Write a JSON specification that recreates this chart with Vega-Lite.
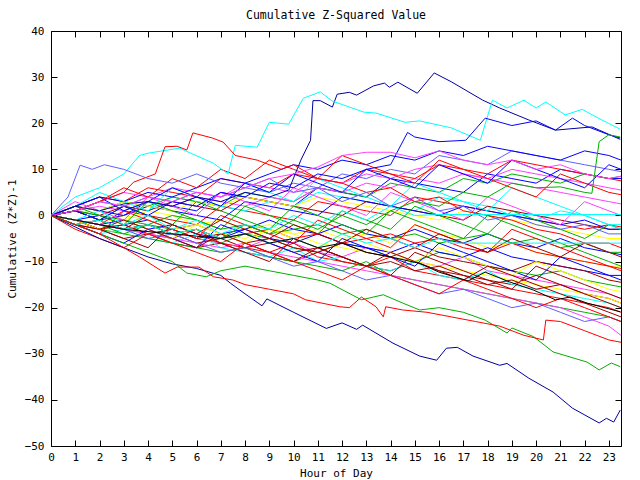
{
"$schema":"https://vega.github.io/schema/vega-lite/v6.json",
"width":570,"height":415,
"autosize":{"type":"none"},
"padding":{"left":51,"top":31,"right":19,"bottom":34},
"background":"white",
"config":{"view":{"stroke":"black","strokeWidth":1},"font":"DejaVu Sans Mono",
"axis":{"labelFont":"DejaVu Sans Mono","labelFontSize":11,"labelColor":"black","titleFont":"DejaVu Sans Mono","titleFontSize":11,"titleFontWeight":"normal","titleColor":"black","grid":false,"domain":false,"tickColor":"black","tickSize":-6,"tickWidth":1}},
"title":{"text":"Cumulative Z-Squared Value","fontSize":11.5,"fontWeight":"normal","font":"DejaVu Sans Mono","color":"black","offset":4},
"data":{"values":[
{"s":14,"h":0,"v":0},{"s":14,"h":1,"v":-1},{"s":14,"h":2,"v":-2},{"s":14,"h":3,"v":1},{"s":14,"h":4,"v":0},{"s":14,"h":5,"v":-1},{"s":14,"h":6,"v":-2},{"s":14,"h":7,"v":2},{"s":14,"h":8,"v":1},{"s":14,"h":9,"v":0},{"s":14,"h":10,"v":-1},{"s":14,"h":11,"v":3},{"s":14,"h":12,"v":2},{"s":14,"h":13,"v":1},{"s":14,"h":14,"v":0},{"s":14,"h":15,"v":4},{"s":14,"h":16,"v":3},{"s":14,"h":17,"v":2},{"s":14,"h":18,"v":1},{"s":14,"h":19,"v":0},{"s":14,"h":20,"v":-1},{"s":14,"h":21,"v":-2},{"s":14,"h":22,"v":-3},{"s":14,"h":23,"v":-2},{"s":14,"h":23.5,"v":-2.5},
{"s":15,"h":0,"v":0},{"s":15,"h":1,"v":-1},{"s":15,"h":2,"v":-3},{"s":15,"h":3,"v":-4},{"s":15,"h":4,"v":-2},{"s":15,"h":5,"v":-3},{"s":15,"h":6,"v":-5},{"s":15,"h":7,"v":-6},{"s":15,"h":8,"v":-4},{"s":15,"h":9,"v":-5},{"s":15,"h":10,"v":-7},{"s":15,"h":11,"v":-8},{"s":15,"h":12,"v":-6},{"s":15,"h":13,"v":-7},{"s":15,"h":14,"v":-9},{"s":15,"h":15,"v":-10},{"s":15,"h":16,"v":-8},{"s":15,"h":17,"v":-9},{"s":15,"h":18,"v":-11},{"s":15,"h":19,"v":-12},{"s":15,"h":20,"v":-13},{"s":15,"h":21,"v":-12},{"s":15,"h":22,"v":-14},{"s":15,"h":23,"v":-15},{"s":15,"h":23.5,"v":-15.5},
{"s":16,"h":0,"v":0},{"s":16,"h":1,"v":2},{"s":16,"h":2,"v":1},{"s":16,"h":3,"v":0},{"s":16,"h":4,"v":3},{"s":16,"h":5,"v":2},{"s":16,"h":6,"v":1},{"s":16,"h":7,"v":5},{"s":16,"h":8,"v":4},{"s":16,"h":9,"v":3},{"s":16,"h":10,"v":2},{"s":16,"h":11,"v":6},{"s":16,"h":12,"v":5},{"s":16,"h":13,"v":4},{"s":16,"h":14,"v":8},{"s":16,"h":15,"v":7},{"s":16,"h":16,"v":6},{"s":16,"h":17,"v":5},{"s":16,"h":18,"v":9},{"s":16,"h":19,"v":8},{"s":16,"h":20,"v":7},{"s":16,"h":21,"v":10},{"s":16,"h":22,"v":9},{"s":16,"h":23,"v":8},{"s":16,"h":23.5,"v":8},
{"s":17,"h":0,"v":0},{"s":17,"h":1,"v":-1},{"s":17,"h":2,"v":-2},{"s":17,"h":3,"v":-3},{"s":17,"h":4,"v":-4},{"s":17,"h":5,"v":-3},{"s":17,"h":6,"v":-5},{"s":17,"h":7,"v":-6},{"s":17,"h":8,"v":-7},{"s":17,"h":9,"v":-5},{"s":17,"h":10,"v":-6},{"s":17,"h":11,"v":-8},{"s":17,"h":12,"v":-9},{"s":17,"h":13,"v":-7},{"s":17,"h":14,"v":-8},{"s":17,"h":15,"v":-10},{"s":17,"h":16,"v":-11},{"s":17,"h":17,"v":-9},{"s":17,"h":18,"v":-12},{"s":17,"h":19,"v":-13},{"s":17,"h":20,"v":-14},{"s":17,"h":21,"v":-15},{"s":17,"h":22,"v":-16},{"s":17,"h":23,"v":-17},{"s":17,"h":23.5,"v":-18},
{"s":18,"h":0,"v":0},{"s":18,"h":1,"v":1},{"s":18,"h":2,"v":3},{"s":18,"h":3,"v":2},{"s":18,"h":4,"v":1},{"s":18,"h":5,"v":4},{"s":18,"h":6,"v":3},{"s":18,"h":7,"v":2},{"s":18,"h":8,"v":1},{"s":18,"h":9,"v":3},{"s":18,"h":10,"v":2},{"s":18,"h":11,"v":5},{"s":18,"h":12,"v":4},{"s":18,"h":13,"v":3},{"s":18,"h":14,"v":2},{"s":18,"h":15,"v":1},{"s":18,"h":16,"v":4},{"s":18,"h":17,"v":3},{"s":18,"h":18,"v":2},{"s":18,"h":19,"v":0},{"s":18,"h":20,"v":-1},{"s":18,"h":21,"v":1},{"s":18,"h":22,"v":0},{"s":18,"h":23,"v":-2},{"s":18,"h":23.5,"v":-2},
{"s":19,"h":0,"v":0},{"s":19,"h":1,"v":-2},{"s":19,"h":2,"v":-3},{"s":19,"h":3,"v":-5},{"s":19,"h":4,"v":-4},{"s":19,"h":5,"v":-6},{"s":19,"h":6,"v":-7},{"s":19,"h":7,"v":-6},{"s":19,"h":8,"v":-8},{"s":19,"h":9,"v":-9},{"s":19,"h":10,"v":-10},{"s":19,"h":11,"v":-8},{"s":19,"h":12,"v":-10},{"s":19,"h":13,"v":-11},{"s":19,"h":14,"v":-12},{"s":19,"h":15,"v":-10},{"s":19,"h":16,"v":-12},{"s":19,"h":17,"v":-13},{"s":19,"h":18,"v":-14},{"s":19,"h":19,"v":-15},{"s":19,"h":20,"v":-13},{"s":19,"h":21,"v":-15},{"s":19,"h":22,"v":-17},{"s":19,"h":23,"v":-18},{"s":19,"h":23.5,"v":-19},
{"s":20,"h":0,"v":0},{"s":20,"h":1,"v":1},{"s":20,"h":2,"v":0},{"s":20,"h":3,"v":-1},{"s":20,"h":4,"v":1},{"s":20,"h":5,"v":0},{"s":20,"h":6,"v":-2},{"s":20,"h":7,"v":-1},{"s":20,"h":8,"v":-3},{"s":20,"h":9,"v":-2},{"s":20,"h":10,"v":-4},{"s":20,"h":11,"v":-3},{"s":20,"h":12,"v":-5},{"s":20,"h":13,"v":-4},{"s":20,"h":14,"v":-6},{"s":20,"h":15,"v":-2},{"s":20,"h":16,"v":-4},{"s":20,"h":17,"v":-5},{"s":20,"h":18,"v":-7},{"s":20,"h":19,"v":-6},{"s":20,"h":20,"v":-8},{"s":20,"h":21,"v":-9},{"s":20,"h":22,"v":-10},{"s":20,"h":23,"v":-11},{"s":20,"h":23.5,"v":-11},
{"s":21,"h":0,"v":0},{"s":21,"h":1,"v":1},{"s":21,"h":2,"v":3},{"s":21,"h":3,"v":2},{"s":21,"h":4,"v":4},{"s":21,"h":5,"v":3},{"s":21,"h":6,"v":5},{"s":21,"h":7,"v":4},{"s":21,"h":8,"v":6},{"s":21,"h":9,"v":5},{"s":21,"h":10,"v":7},{"s":21,"h":11,"v":6},{"s":21,"h":12,"v":9},{"s":21,"h":13,"v":8},{"s":21,"h":14,"v":10},{"s":21,"h":15,"v":9},{"s":21,"h":16,"v":13},{"s":21,"h":17,"v":12},{"s":21,"h":18,"v":11},{"s":21,"h":19,"v":14},{"s":21,"h":20,"v":13},{"s":21,"h":21,"v":12},{"s":21,"h":22,"v":11},{"s":21,"h":23,"v":10},{"s":21,"h":23.5,"v":9.5},
{"s":22,"h":0,"v":0},{"s":22,"h":1,"v":-1},{"s":22,"h":2,"v":-3},{"s":22,"h":3,"v":-2},{"s":22,"h":4,"v":-4},{"s":22,"h":5,"v":-5},{"s":22,"h":6,"v":-3},{"s":22,"h":7,"v":-6},{"s":22,"h":8,"v":-7},{"s":22,"h":9,"v":-8},{"s":22,"h":10,"v":-6},{"s":22,"h":11,"v":-9},{"s":22,"h":12,"v":-10},{"s":22,"h":13,"v":-11},{"s":22,"h":14,"v":-9},{"s":22,"h":15,"v":-12},{"s":22,"h":16,"v":-13},{"s":22,"h":17,"v":-14},{"s":22,"h":18,"v":-15},{"s":22,"h":19,"v":-16},{"s":22,"h":20,"v":-17},{"s":22,"h":21,"v":-18},{"s":22,"h":22,"v":-19},{"s":22,"h":23,"v":-20},{"s":22,"h":23.5,"v":-21},
{"s":23,"h":0,"v":0},{"s":23,"h":1,"v":2},{"s":23,"h":2,"v":1},{"s":23,"h":3,"v":3},{"s":23,"h":4,"v":2},{"s":23,"h":5,"v":4},{"s":23,"h":6,"v":3},{"s":23,"h":7,"v":2},{"s":23,"h":8,"v":5},{"s":23,"h":9,"v":4},{"s":23,"h":10,"v":3},{"s":23,"h":11,"v":6},{"s":23,"h":12,"v":5},{"s":23,"h":13,"v":4},{"s":23,"h":14,"v":7},{"s":23,"h":15,"v":6},{"s":23,"h":16,"v":5},{"s":23,"h":17,"v":8},{"s":23,"h":18,"v":7},{"s":23,"h":19,"v":9},{"s":23,"h":20,"v":8},{"s":23,"h":21,"v":7},{"s":23,"h":22,"v":9},{"s":23,"h":23,"v":8},{"s":23,"h":23.5,"v":8.5},
{"s":24,"h":0,"v":0},{"s":24,"h":1,"v":-1},{"s":24,"h":2,"v":0},{"s":24,"h":3,"v":-2},{"s":24,"h":4,"v":-1},{"s":24,"h":5,"v":-3},{"s":24,"h":6,"v":-2},{"s":24,"h":7,"v":-4},{"s":24,"h":8,"v":-3},{"s":24,"h":9,"v":-1},{"s":24,"h":10,"v":-3},{"s":24,"h":11,"v":-4},{"s":24,"h":12,"v":-2},{"s":24,"h":13,"v":-4},{"s":24,"h":14,"v":-5},{"s":24,"h":15,"v":-3},{"s":24,"h":16,"v":-5},{"s":24,"h":17,"v":-6},{"s":24,"h":18,"v":-4},{"s":24,"h":19,"v":-6},{"s":24,"h":20,"v":-7},{"s":24,"h":21,"v":-5},{"s":24,"h":22,"v":-7},{"s":24,"h":23,"v":-8},{"s":24,"h":23.5,"v":-8.5},
{"s":25,"h":0,"v":0},{"s":25,"h":1,"v":1},{"s":25,"h":2,"v":2},{"s":25,"h":3,"v":1},{"s":25,"h":4,"v":3},{"s":25,"h":5,"v":2},{"s":25,"h":6,"v":4},{"s":25,"h":7,"v":3},{"s":25,"h":8,"v":2},{"s":25,"h":9,"v":4},{"s":25,"h":10,"v":3},{"s":25,"h":11,"v":6},{"s":25,"h":12,"v":5},{"s":25,"h":13,"v":7},{"s":25,"h":14,"v":6},{"s":25,"h":15,"v":8},{"s":25,"h":16,"v":7},{"s":25,"h":17,"v":9},{"s":25,"h":18,"v":8},{"s":25,"h":19,"v":7},{"s":25,"h":20,"v":6},{"s":25,"h":21,"v":5},{"s":25,"h":22,"v":4},{"s":25,"h":23,"v":3},{"s":25,"h":23.5,"v":2.5},
{"s":26,"h":0,"v":0},{"s":26,"h":1,"v":-2},{"s":26,"h":2,"v":-4},{"s":26,"h":3,"v":-3},{"s":26,"h":4,"v":-5},{"s":26,"h":5,"v":-6},{"s":26,"h":6,"v":-4},{"s":26,"h":7,"v":-7},{"s":26,"h":8,"v":-8},{"s":26,"h":9,"v":-9},{"s":26,"h":10,"v":-7},{"s":26,"h":11,"v":-10},{"s":26,"h":12,"v":-9},{"s":26,"h":13,"v":-11},{"s":26,"h":14,"v":-12},{"s":26,"h":15,"v":-10},{"s":26,"h":16,"v":-13},{"s":26,"h":17,"v":-14},{"s":26,"h":18,"v":-12},{"s":26,"h":19,"v":-15},{"s":26,"h":20,"v":-16},{"s":26,"h":21,"v":-17},{"s":26,"h":22,"v":-18},{"s":26,"h":23,"v":-19},{"s":26,"h":23.5,"v":-20},
{"s":27,"h":0,"v":0},{"s":27,"h":1,"v":1},{"s":27,"h":2,"v":0},{"s":27,"h":3,"v":2},{"s":27,"h":4,"v":1},{"s":27,"h":5,"v":3},{"s":27,"h":6,"v":2},{"s":27,"h":7,"v":1},{"s":27,"h":8,"v":4},{"s":27,"h":9,"v":3},{"s":27,"h":10,"v":2},{"s":27,"h":11,"v":1},{"s":27,"h":12,"v":0},{"s":27,"h":13,"v":3},{"s":27,"h":14,"v":2},{"s":27,"h":15,"v":1},{"s":27,"h":16,"v":0},{"s":27,"h":17,"v":-1},{"s":27,"h":18,"v":2},{"s":27,"h":19,"v":1},{"s":27,"h":20,"v":0},{"s":27,"h":21,"v":-1},{"s":27,"h":22,"v":-2},{"s":27,"h":23,"v":-3},{"s":27,"h":23.5,"v":-3},
{"s":28,"h":0,"v":0},{"s":28,"h":1,"v":-1},{"s":28,"h":2,"v":-2},{"s":28,"h":3,"v":0},{"s":28,"h":4,"v":-1},{"s":28,"h":5,"v":-3},{"s":28,"h":6,"v":-2},{"s":28,"h":7,"v":-4},{"s":28,"h":8,"v":-5},{"s":28,"h":9,"v":-3},{"s":28,"h":10,"v":-4},{"s":28,"h":11,"v":-6},{"s":28,"h":12,"v":-7},{"s":28,"h":13,"v":-8},{"s":28,"h":14,"v":-9},{"s":28,"h":15,"v":-10},{"s":28,"h":16,"v":-11},{"s":28,"h":17,"v":-12},{"s":28,"h":18,"v":-13},{"s":28,"h":19,"v":-14},{"s":28,"h":20,"v":-15},{"s":28,"h":21,"v":-16},{"s":28,"h":22,"v":-17},{"s":28,"h":23,"v":-18},{"s":28,"h":23.5,"v":-19},
{"s":29,"h":0,"v":0},{"s":29,"h":1,"v":1},{"s":29,"h":2,"v":-1},{"s":29,"h":3,"v":0},{"s":29,"h":4,"v":2},{"s":29,"h":5,"v":1},{"s":29,"h":6,"v":0},{"s":29,"h":7,"v":-1},{"s":29,"h":8,"v":3},{"s":29,"h":9,"v":2},{"s":29,"h":10,"v":1},{"s":29,"h":11,"v":0},{"s":29,"h":12,"v":4},{"s":29,"h":13,"v":3},{"s":29,"h":14,"v":2},{"s":29,"h":15,"v":1},{"s":29,"h":16,"v":0},{"s":29,"h":17,"v":2},{"s":29,"h":18,"v":1},{"s":29,"h":19,"v":0},{"s":29,"h":20,"v":-1},{"s":29,"h":21,"v":-2},{"s":29,"h":22,"v":-1},{"s":29,"h":23,"v":-3},{"s":29,"h":23.5,"v":-3},
{"s":30,"h":0,"v":0},{"s":30,"h":1,"v":2},{"s":30,"h":2,"v":4},{"s":30,"h":3,"v":3},{"s":30,"h":4,"v":6},{"s":30,"h":5,"v":5},{"s":30,"h":6,"v":4},{"s":30,"h":7,"v":8},{"s":30,"h":8,"v":7},{"s":30,"h":9,"v":6},{"s":30,"h":10,"v":9},{"s":30,"h":11,"v":8},{"s":30,"h":12,"v":7},{"s":30,"h":13,"v":10},{"s":30,"h":14,"v":9},{"s":30,"h":15,"v":8},{"s":30,"h":16,"v":11},{"s":30,"h":17,"v":10},{"s":30,"h":18,"v":9},{"s":30,"h":19,"v":12},{"s":30,"h":20,"v":11},{"s":30,"h":21,"v":10},{"s":30,"h":22,"v":9},{"s":30,"h":23,"v":8},{"s":30,"h":23.5,"v":7.5},
{"s":31,"h":0,"v":0},{"s":31,"h":1,"v":-1},{"s":31,"h":2,"v":-2},{"s":31,"h":3,"v":-4},{"s":31,"h":4,"v":-5},{"s":31,"h":5,"v":-6},{"s":31,"h":6,"v":-7},{"s":31,"h":7,"v":-8},{"s":31,"h":8,"v":-7},{"s":31,"h":9,"v":-9},{"s":31,"h":10,"v":-10},{"s":31,"h":11,"v":-11},{"s":31,"h":12,"v":-12},{"s":31,"h":13,"v":-10},{"s":31,"h":14,"v":-13},{"s":31,"h":15,"v":-14},{"s":31,"h":16,"v":-15},{"s":31,"h":17,"v":-16},{"s":31,"h":18,"v":-17},{"s":31,"h":19,"v":-18},{"s":31,"h":20,"v":-19},{"s":31,"h":21,"v":-20},{"s":31,"h":22,"v":-21},{"s":31,"h":23,"v":-22},{"s":31,"h":23.5,"v":-23},
{"s":32,"h":0,"v":0},{"s":32,"h":1,"v":-1},{"s":32,"h":2,"v":-2},{"s":32,"h":3,"v":-1},{"s":32,"h":4,"v":-3},{"s":32,"h":5,"v":-2},{"s":32,"h":6,"v":-4},{"s":32,"h":7,"v":-5},{"s":32,"h":8,"v":-3},{"s":32,"h":9,"v":-5},{"s":32,"h":10,"v":-6},{"s":32,"h":11,"v":-4},{"s":32,"h":12,"v":-6},{"s":32,"h":13,"v":-7},{"s":32,"h":14,"v":-8},{"s":32,"h":15,"v":-6},{"s":32,"h":16,"v":-8},{"s":32,"h":17,"v":-9},{"s":32,"h":18,"v":-7},{"s":32,"h":19,"v":-9},{"s":32,"h":20,"v":-10},{"s":32,"h":21,"v":-11},{"s":32,"h":22,"v":-12},{"s":32,"h":23,"v":-13},{"s":32,"h":23.5,"v":-13},
{"s":33,"h":0,"v":0},{"s":33,"h":1,"v":1},{"s":33,"h":2,"v":3},{"s":33,"h":3,"v":5},{"s":33,"h":4,"v":4},{"s":33,"h":5,"v":6},{"s":33,"h":6,"v":5},{"s":33,"h":7,"v":4},{"s":33,"h":8,"v":7},{"s":33,"h":9,"v":6},{"s":33,"h":10,"v":5},{"s":33,"h":11,"v":8},{"s":33,"h":12,"v":7},{"s":33,"h":13,"v":9},{"s":33,"h":14,"v":8},{"s":33,"h":15,"v":10},{"s":33,"h":16,"v":11},{"s":33,"h":17,"v":9},{"s":33,"h":18,"v":8},{"s":33,"h":19,"v":10},{"s":33,"h":20,"v":9},{"s":33,"h":21,"v":8},{"s":33,"h":22,"v":7},{"s":33,"h":23,"v":6},{"s":33,"h":23.5,"v":5.5},
{"s":34,"h":0,"v":0},{"s":34,"h":1,"v":-1},{"s":34,"h":2,"v":-3},{"s":34,"h":3,"v":-2},{"s":34,"h":4,"v":-4},{"s":34,"h":5,"v":-3},{"s":34,"h":6,"v":-5},{"s":34,"h":7,"v":-4},{"s":34,"h":8,"v":-6},{"s":34,"h":9,"v":-5},{"s":34,"h":10,"v":-7},{"s":34,"h":11,"v":-8},{"s":34,"h":12,"v":-6},{"s":34,"h":13,"v":-8},{"s":34,"h":14,"v":-9},{"s":34,"h":15,"v":-7},{"s":34,"h":16,"v":-9},{"s":34,"h":17,"v":-10},{"s":34,"h":18,"v":-11},{"s":34,"h":19,"v":-12},{"s":34,"h":20,"v":-10},{"s":34,"h":21,"v":-11},{"s":34,"h":22,"v":-12},{"s":34,"h":23,"v":-14},{"s":34,"h":23.5,"v":-14.5},
{"s":35,"h":0,"v":0},{"s":35,"h":1,"v":2},{"s":35,"h":2,"v":1},{"s":35,"h":3,"v":3},{"s":35,"h":4,"v":2},{"s":35,"h":5,"v":1},{"s":35,"h":6,"v":3},{"s":35,"h":7,"v":2},{"s":35,"h":8,"v":4},{"s":35,"h":9,"v":3},{"s":35,"h":10,"v":2},{"s":35,"h":11,"v":4},{"s":35,"h":12,"v":3},{"s":35,"h":13,"v":2},{"s":35,"h":14,"v":1},{"s":35,"h":15,"v":0},{"s":35,"h":16,"v":-1},{"s":35,"h":17,"v":1},{"s":35,"h":18,"v":0},{"s":35,"h":19,"v":-1},{"s":35,"h":20,"v":-2},{"s":35,"h":21,"v":-3},{"s":35,"h":22,"v":-4},{"s":35,"h":23,"v":-5},{"s":35,"h":23.5,"v":-5},
{"s":36,"h":0,"v":0},{"s":36,"h":1,"v":-1},{"s":36,"h":2,"v":-2},{"s":36,"h":3,"v":-3},{"s":36,"h":4,"v":-2},{"s":36,"h":5,"v":-4},{"s":36,"h":6,"v":-3},{"s":36,"h":7,"v":-5},{"s":36,"h":8,"v":-4},{"s":36,"h":9,"v":-3},{"s":36,"h":10,"v":-5},{"s":36,"h":11,"v":-4},{"s":36,"h":12,"v":-6},{"s":36,"h":13,"v":-5},{"s":36,"h":14,"v":-4},{"s":36,"h":15,"v":-6},{"s":36,"h":16,"v":-5},{"s":36,"h":17,"v":-7},{"s":36,"h":18,"v":-8},{"s":36,"h":19,"v":-6},{"s":36,"h":20,"v":-8},{"s":36,"h":21,"v":-9},{"s":36,"h":22,"v":-10},{"s":36,"h":23,"v":-11},{"s":36,"h":23.5,"v":-11.5},
{"s":37,"h":0,"v":0},{"s":37,"h":1,"v":1},{"s":37,"h":2,"v":0},{"s":37,"h":3,"v":-1},{"s":37,"h":4,"v":-2},{"s":37,"h":5,"v":0},{"s":37,"h":6,"v":-1},{"s":37,"h":7,"v":-3},{"s":37,"h":8,"v":-2},{"s":37,"h":9,"v":-4},{"s":37,"h":10,"v":-3},{"s":37,"h":11,"v":-2},{"s":37,"h":12,"v":-4},{"s":37,"h":13,"v":-3},{"s":37,"h":14,"v":-5},{"s":37,"h":15,"v":-4},{"s":37,"h":16,"v":-6},{"s":37,"h":17,"v":-5},{"s":37,"h":18,"v":-4},{"s":37,"h":19,"v":-6},{"s":37,"h":20,"v":-5},{"s":37,"h":21,"v":-7},{"s":37,"h":22,"v":-6},{"s":37,"h":23,"v":-8},{"s":37,"h":23.5,"v":-8},
{"s":38,"h":0,"v":0},{"s":38,"h":1,"v":2},{"s":38,"h":2,"v":4},{"s":38,"h":3,"v":3},{"s":38,"h":4,"v":5},{"s":38,"h":5,"v":4},{"s":38,"h":6,"v":6},{"s":38,"h":7,"v":8},{"s":38,"h":8,"v":7},{"s":38,"h":9,"v":9},{"s":38,"h":10,"v":11},{"s":38,"h":11,"v":10},{"s":38,"h":12,"v":12},{"s":38,"h":13,"v":11},{"s":38,"h":14,"v":13},{"s":38,"h":15,"v":12},{"s":38,"h":16,"v":14},{"s":38,"h":17,"v":13},{"s":38,"h":18,"v":15},{"s":38,"h":19,"v":14},{"s":38,"h":20,"v":13},{"s":38,"h":21,"v":12},{"s":38,"h":22,"v":14},{"s":38,"h":23,"v":13},{"s":38,"h":23.5,"v":12},
{"s":39,"h":0,"v":0},{"s":39,"h":1,"v":-2},{"s":39,"h":2,"v":-1},{"s":39,"h":3,"v":-3},{"s":39,"h":4,"v":-2},{"s":39,"h":5,"v":-4},{"s":39,"h":6,"v":-6},{"s":39,"h":7,"v":-5},{"s":39,"h":8,"v":-7},{"s":39,"h":9,"v":-6},{"s":39,"h":10,"v":-8},{"s":39,"h":11,"v":-7},{"s":39,"h":12,"v":-9},{"s":39,"h":13,"v":-11},{"s":39,"h":14,"v":-10},{"s":39,"h":15,"v":-12},{"s":39,"h":16,"v":-11},{"s":39,"h":17,"v":-13},{"s":39,"h":18,"v":-15},{"s":39,"h":19,"v":-14},{"s":39,"h":20,"v":-16},{"s":39,"h":21,"v":-15},{"s":39,"h":22,"v":-17},{"s":39,"h":23,"v":-19},{"s":39,"h":23.5,"v":-20},
{"s":40,"h":0,"v":0},{"s":40,"h":1,"v":-1},{"s":40,"h":2,"v":-2},{"s":40,"h":3,"v":-3},{"s":40,"h":4,"v":-4},{"s":40,"h":5,"v":-5},{"s":40,"h":6,"v":-6},{"s":40,"h":7,"v":-7},{"s":40,"h":8,"v":-6},{"s":40,"h":9,"v":-8},{"s":40,"h":10,"v":-9},{"s":40,"h":11,"v":-10},{"s":40,"h":12,"v":-11},{"s":40,"h":13,"v":-12},{"s":40,"h":14,"v":-13},{"s":40,"h":15,"v":-14},{"s":40,"h":16,"v":-15},{"s":40,"h":17,"v":-16},{"s":40,"h":18,"v":-17},{"s":40,"h":19,"v":-18},{"s":40,"h":20,"v":-19},{"s":40,"h":21,"v":-20},{"s":40,"h":22,"v":-22},{"s":40,"h":23,"v":-24},{"s":40,"h":23.5,"v":-26},
{"s":41,"h":0,"v":0},{"s":41,"h":1,"v":-2},{"s":41,"h":2,"v":-4},{"s":41,"h":3,"v":1},{"s":41,"h":4,"v":-1},{"s":41,"h":5,"v":-3},{"s":41,"h":6,"v":-5},{"s":41,"h":7,"v":0},{"s":41,"h":8,"v":-2},{"s":41,"h":9,"v":-4},{"s":41,"h":10,"v":-6},{"s":41,"h":11,"v":-1},{"s":41,"h":12,"v":-3},{"s":41,"h":13,"v":-5},{"s":41,"h":14,"v":-7},{"s":41,"h":15,"v":-2},{"s":41,"h":16,"v":-4},{"s":41,"h":17,"v":-6},{"s":41,"h":18,"v":-8},{"s":41,"h":19,"v":-3},{"s":41,"h":20,"v":-5},{"s":41,"h":21,"v":-7},{"s":41,"h":22,"v":-9},{"s":41,"h":23,"v":-11},{"s":41,"h":23.5,"v":-12},
{"s":42,"h":0,"v":0},{"s":42,"h":1,"v":-1},{"s":42,"h":2,"v":-3},{"s":42,"h":3,"v":-5},{"s":42,"h":4,"v":-7},{"s":42,"h":5,"v":-2},{"s":42,"h":6,"v":-4},{"s":42,"h":7,"v":-6},{"s":42,"h":8,"v":-8},{"s":42,"h":9,"v":-10},{"s":42,"h":10,"v":-5},{"s":42,"h":11,"v":-7},{"s":42,"h":12,"v":-9},{"s":42,"h":13,"v":-11},{"s":42,"h":14,"v":-13},{"s":42,"h":15,"v":-8},{"s":42,"h":16,"v":-10},{"s":42,"h":17,"v":-12},{"s":42,"h":18,"v":-14},{"s":42,"h":19,"v":-16},{"s":42,"h":20,"v":-11},{"s":42,"h":21,"v":-13},{"s":42,"h":22,"v":-15},{"s":42,"h":23,"v":-17},{"s":42,"h":23.5,"v":-18},
{"s":43,"h":0,"v":0},{"s":43,"h":1,"v":2},{"s":43,"h":2,"v":0},{"s":43,"h":3,"v":-2},{"s":43,"h":4,"v":3},{"s":43,"h":5,"v":1},{"s":43,"h":6,"v":-1},{"s":43,"h":7,"v":-3},{"s":43,"h":8,"v":2},{"s":43,"h":9,"v":0},{"s":43,"h":10,"v":-2},{"s":43,"h":11,"v":-4},{"s":43,"h":12,"v":1},{"s":43,"h":13,"v":-1},{"s":43,"h":14,"v":-3},{"s":43,"h":15,"v":2},{"s":43,"h":16,"v":0},{"s":43,"h":17,"v":-2},{"s":43,"h":18,"v":-4},{"s":43,"h":19,"v":1},{"s":43,"h":20,"v":-1},{"s":43,"h":21,"v":-3},{"s":43,"h":22,"v":-5},{"s":43,"h":23,"v":-2},{"s":43,"h":23.5,"v":-3},
{"s":44,"h":0,"v":0},{"s":44,"h":1,"v":-2},{"s":44,"h":2,"v":-4},{"s":44,"h":3,"v":-6},{"s":44,"h":4,"v":-3},{"s":44,"h":5,"v":-5},{"s":44,"h":6,"v":-7},{"s":44,"h":7,"v":-2},{"s":44,"h":8,"v":-4},{"s":44,"h":9,"v":-6},{"s":44,"h":10,"v":-8},{"s":44,"h":11,"v":-10},{"s":44,"h":12,"v":-5},{"s":44,"h":13,"v":-7},{"s":44,"h":14,"v":-9},{"s":44,"h":15,"v":-11},{"s":44,"h":16,"v":-6},{"s":44,"h":17,"v":-8},{"s":44,"h":18,"v":-10},{"s":44,"h":19,"v":-12},{"s":44,"h":20,"v":-14},{"s":44,"h":21,"v":-9},{"s":44,"h":22,"v":-11},{"s":44,"h":23,"v":-13},{"s":44,"h":23.5,"v":-14},
{"s":45,"h":0,"v":0},{"s":45,"h":1,"v":3},{"s":45,"h":2,"v":1},{"s":45,"h":3,"v":-1},{"s":45,"h":4,"v":4},{"s":45,"h":5,"v":2},{"s":45,"h":6,"v":0},{"s":45,"h":7,"v":5},{"s":45,"h":8,"v":3},{"s":45,"h":9,"v":1},{"s":45,"h":10,"v":6},{"s":45,"h":11,"v":4},{"s":45,"h":12,"v":2},{"s":45,"h":13,"v":0},{"s":45,"h":14,"v":5},{"s":45,"h":15,"v":3},{"s":45,"h":16,"v":1},{"s":45,"h":17,"v":-1},{"s":45,"h":18,"v":4},{"s":45,"h":19,"v":2},{"s":45,"h":20,"v":0},{"s":45,"h":21,"v":-2},{"s":45,"h":22,"v":3},{"s":45,"h":23,"v":1},{"s":45,"h":23.5,"v":0},
{"s":46,"h":0,"v":0},{"s":46,"h":1,"v":-1},{"s":46,"h":2,"v":-3},{"s":46,"h":3,"v":-1},{"s":46,"h":4,"v":-3},{"s":46,"h":5,"v":-5},{"s":46,"h":6,"v":-2},{"s":46,"h":7,"v":-4},{"s":46,"h":8,"v":-6},{"s":46,"h":9,"v":-3},{"s":46,"h":10,"v":-5},{"s":46,"h":11,"v":-7},{"s":46,"h":12,"v":-4},{"s":46,"h":13,"v":-6},{"s":46,"h":14,"v":-8},{"s":46,"h":15,"v":-10},{"s":46,"h":16,"v":-7},{"s":46,"h":17,"v":-9},{"s":46,"h":18,"v":-11},{"s":46,"h":19,"v":-13},{"s":46,"h":20,"v":-10},{"s":46,"h":21,"v":-12},{"s":46,"h":22,"v":-14},{"s":46,"h":23,"v":-16},{"s":46,"h":23.5,"v":-16.5},
{"s":47,"h":0,"v":0},{"s":47,"h":1,"v":2},{"s":47,"h":2,"v":5},{"s":47,"h":3,"v":3},{"s":47,"h":4,"v":1},{"s":47,"h":5,"v":6},{"s":47,"h":6,"v":4},{"s":47,"h":7,"v":2},{"s":47,"h":8,"v":7},{"s":47,"h":9,"v":5},{"s":47,"h":10,"v":3},{"s":47,"h":11,"v":8},{"s":47,"h":12,"v":6},{"s":47,"h":13,"v":4},{"s":47,"h":14,"v":2},{"s":47,"h":15,"v":7},{"s":47,"h":16,"v":5},{"s":47,"h":17,"v":3},{"s":47,"h":18,"v":1},{"s":47,"h":19,"v":6},{"s":47,"h":20,"v":4},{"s":47,"h":21,"v":2},{"s":47,"h":22,"v":0},{"s":47,"h":23,"v":-2},{"s":47,"h":23.5,"v":-3},
{"s":48,"h":0,"v":0},{"s":48,"h":1,"v":-2},{"s":48,"h":2,"v":-1},{"s":48,"h":3,"v":-3},{"s":48,"h":4,"v":-5},{"s":48,"h":5,"v":-4},{"s":48,"h":6,"v":-6},{"s":48,"h":7,"v":-8},{"s":48,"h":8,"v":-7},{"s":48,"h":9,"v":-9},{"s":48,"h":10,"v":-11},{"s":48,"h":11,"v":-10},{"s":48,"h":12,"v":-12},{"s":48,"h":13,"v":-14},{"s":48,"h":14,"v":-13},{"s":48,"h":15,"v":-15},{"s":48,"h":16,"v":-17},{"s":48,"h":17,"v":-16},{"s":48,"h":18,"v":-18},{"s":48,"h":19,"v":-20},{"s":48,"h":20,"v":-19},{"s":48,"h":21,"v":-21},{"s":48,"h":22,"v":-23},{"s":48,"h":23,"v":-22},{"s":48,"h":23.5,"v":-23},
{"s":49,"h":0,"v":0},{"s":49,"h":1,"v":1},{"s":49,"h":2,"v":3},{"s":49,"h":3,"v":6},{"s":49,"h":4,"v":4},{"s":49,"h":5,"v":8},{"s":49,"h":6,"v":6},{"s":49,"h":7,"v":10},{"s":49,"h":8,"v":8},{"s":49,"h":9,"v":12},{"s":49,"h":10,"v":10},{"s":49,"h":11,"v":8},{"s":49,"h":12,"v":13},{"s":49,"h":13,"v":11},{"s":49,"h":14,"v":9},{"s":49,"h":15,"v":7},{"s":49,"h":16,"v":12},{"s":49,"h":17,"v":10},{"s":49,"h":18,"v":8},{"s":49,"h":19,"v":6},{"s":49,"h":20,"v":4},{"s":49,"h":21,"v":9},{"s":49,"h":22,"v":7},{"s":49,"h":23,"v":5},{"s":49,"h":23.5,"v":4.5},
{"s":50,"h":0,"v":0},{"s":50,"h":1,"v":-2},{"s":50,"h":2,"v":-3},{"s":50,"h":3,"v":-1},{"s":50,"h":4,"v":-3},{"s":50,"h":5,"v":-5},{"s":50,"h":6,"v":-7},{"s":50,"h":7,"v":-4},{"s":50,"h":8,"v":-6},{"s":50,"h":9,"v":-8},{"s":50,"h":10,"v":-10},{"s":50,"h":11,"v":-7},{"s":50,"h":12,"v":-9},{"s":50,"h":13,"v":-11},{"s":50,"h":14,"v":-8},{"s":50,"h":15,"v":-10},{"s":50,"h":16,"v":-12},{"s":50,"h":17,"v":-14},{"s":50,"h":18,"v":-11},{"s":50,"h":19,"v":-13},{"s":50,"h":20,"v":-15},{"s":50,"h":21,"v":-17},{"s":50,"h":22,"v":-19},{"s":50,"h":23,"v":-21},{"s":50,"h":23.5,"v":-22},
{"s":51,"h":0,"v":0},{"s":51,"h":1,"v":1},{"s":51,"h":2,"v":-1},{"s":51,"h":3,"v":2},{"s":51,"h":4,"v":0},{"s":51,"h":5,"v":-2},{"s":51,"h":6,"v":3},{"s":51,"h":7,"v":1},{"s":51,"h":8,"v":-1},{"s":51,"h":9,"v":-3},{"s":51,"h":10,"v":2},{"s":51,"h":11,"v":0},{"s":51,"h":12,"v":-2},{"s":51,"h":13,"v":-4},{"s":51,"h":14,"v":1},{"s":51,"h":15,"v":-1},{"s":51,"h":16,"v":-3},{"s":51,"h":17,"v":-5},{"s":51,"h":18,"v":0},{"s":51,"h":19,"v":-2},{"s":51,"h":20,"v":-4},{"s":51,"h":21,"v":-6},{"s":51,"h":22,"v":-8},{"s":51,"h":23,"v":-10},{"s":51,"h":23.5,"v":-11},
{"s":52,"h":0,"v":0},{"s":52,"h":1,"v":2},{"s":52,"h":2,"v":4},{"s":52,"h":3,"v":1},{"s":52,"h":4,"v":3},{"s":52,"h":5,"v":6},{"s":52,"h":6,"v":4},{"s":52,"h":7,"v":2},{"s":52,"h":8,"v":7},{"s":52,"h":9,"v":5},{"s":52,"h":10,"v":9},{"s":52,"h":11,"v":7},{"s":52,"h":12,"v":5},{"s":52,"h":13,"v":10},{"s":52,"h":14,"v":8},{"s":52,"h":15,"v":6},{"s":52,"h":16,"v":11},{"s":52,"h":17,"v":9},{"s":52,"h":18,"v":7},{"s":52,"h":19,"v":12},{"s":52,"h":20,"v":10},{"s":52,"h":21,"v":8},{"s":52,"h":22,"v":6},{"s":52,"h":23,"v":11},{"s":52,"h":23.5,"v":10},
{"s":53,"h":0,"v":0},{"s":53,"h":1,"v":-3},{"s":53,"h":2,"v":-5},{"s":53,"h":3,"v":-7},{"s":53,"h":4,"v":-4},{"s":53,"h":5,"v":-6},{"s":53,"h":6,"v":-8},{"s":53,"h":7,"v":-10},{"s":53,"h":8,"v":-6},{"s":53,"h":9,"v":-8},{"s":53,"h":10,"v":-10},{"s":53,"h":11,"v":-12},{"s":53,"h":12,"v":-14},{"s":53,"h":13,"v":-11},{"s":53,"h":14,"v":-13},{"s":53,"h":15,"v":-15},{"s":53,"h":16,"v":-17},{"s":53,"h":17,"v":-14},{"s":53,"h":18,"v":-16},{"s":53,"h":19,"v":-18},{"s":53,"h":20,"v":-20},{"s":53,"h":21,"v":-18},{"s":53,"h":22,"v":-20},{"s":53,"h":23,"v":-22},{"s":53,"h":23.5,"v":-23},
{"s":54,"h":0,"v":0},{"s":54,"h":1,"v":1},{"s":54,"h":2,"v":-1},{"s":54,"h":3,"v":-3},{"s":54,"h":4,"v":0},{"s":54,"h":5,"v":-2},{"s":54,"h":6,"v":-4},{"s":54,"h":7,"v":-1},{"s":54,"h":8,"v":-3},{"s":54,"h":9,"v":-5},{"s":54,"h":10,"v":-2},{"s":54,"h":11,"v":-4},{"s":54,"h":12,"v":-6},{"s":54,"h":13,"v":-3},{"s":54,"h":14,"v":-5},{"s":54,"h":15,"v":-7},{"s":54,"h":16,"v":-4},{"s":54,"h":17,"v":-6},{"s":54,"h":18,"v":-8},{"s":54,"h":19,"v":-5},{"s":54,"h":20,"v":-7},{"s":54,"h":21,"v":-9},{"s":54,"h":22,"v":-6},{"s":54,"h":23,"v":-8},{"s":54,"h":23.5,"v":-9},
{"s":1,"h":0,"v":0},{"s":1,"h":1,"v":-2.5},{"s":1,"h":2,"v":-5},{"s":1,"h":3,"v":-7},{"s":1,"h":4,"v":-9},{"s":1,"h":5,"v":-10.5},{"s":1,"h":6,"v":-11.5},{"s":1,"h":7,"v":-13},{"s":1,"h":7.4,"v":-14.7},{"s":1,"h":8,"v":-17},{"s":1,"h":8.7,"v":-19.6},{"s":1,"h":8.9,"v":-18.1},{"s":1,"h":10,"v":-21},{"s":1,"h":11.35,"v":-24.5},{"s":1,"h":12,"v":-23.3},{"s":1,"h":12.6,"v":-24.7},{"s":1,"h":12.85,"v":-23.8},{"s":1,"h":14.1,"v":-27.7},{"s":1,"h":15.2,"v":-30.5},{"s":1,"h":15.9,"v":-31.4},{"s":1,"h":16.3,"v":-28.8},{"s":1,"h":16.75,"v":-28.6},{"s":1,"h":17.4,"v":-30.5},{"s":1,"h":18.5,"v":-32.5},{"s":1,"h":18.8,"v":-32.1},{"s":1,"h":19.7,"v":-35.3},{"s":1,"h":20.7,"v":-38.3},{"s":1,"h":21.5,"v":-41.8},{"s":1,"h":22.6,"v":-45},{"s":1,"h":22.9,"v":-44},{"s":1,"h":23.2,"v":-44.8},{"s":1,"h":23.47,"v":-42.2},
{"s":2,"h":0,"v":0},{"s":2,"h":1,"v":2},{"s":2,"h":2,"v":1},{"s":2,"h":3,"v":2.5},{"s":2,"h":4,"v":3},{"s":2,"h":5,"v":2},{"s":2,"h":6,"v":4},{"s":2,"h":7,"v":3},{"s":2,"h":8,"v":5},{"s":2,"h":9,"v":4},{"s":2,"h":9.8,"v":5.5},{"s":2,"h":10.3,"v":12},{"s":2,"h":10.7,"v":16.3},{"s":2,"h":10.8,"v":24.9},{"s":2,"h":11.1,"v":24.9},{"s":2,"h":11.6,"v":23.5},{"s":2,"h":11.8,"v":26.3},{"s":2,"h":12.3,"v":26.7},{"s":2,"h":12.6,"v":26.1},{"s":2,"h":13.3,"v":28.1},{"s":2,"h":13.75,"v":28.7},{"s":2,"h":13.95,"v":27.8},{"s":2,"h":14.3,"v":28.9},{"s":2,"h":15.1,"v":26.5},{"s":2,"h":15.8,"v":30.9},{"s":2,"h":16.5,"v":29},{"s":2,"h":17.8,"v":25},{"s":2,"h":18.5,"v":23.3},{"s":2,"h":19.7,"v":20.7},{"s":2,"h":20.8,"v":18.5},{"s":2,"h":22.3,"v":19.2},{"s":2,"h":23.47,"v":16.5},
{"s":3,"h":0,"v":0},{"s":3,"h":1,"v":4},{"s":3,"h":2,"v":6},{"s":3,"h":3,"v":9},{"s":3,"h":3.65,"v":13},{"s":3,"h":4,"v":13.5},{"s":3,"h":5.3,"v":14.6},{"s":3,"h":6.7,"v":11.3},{"s":3,"h":7.3,"v":9},{"s":3,"h":7.6,"v":15.2},{"s":3,"h":8.5,"v":14.8},{"s":3,"h":9,"v":20.2},{"s":3,"h":9.8,"v":19.8},{"s":3,"h":10.4,"v":25.4},{"s":3,"h":11.1,"v":26.8},{"s":3,"h":11.6,"v":24.8},{"s":3,"h":12.9,"v":22.4},{"s":3,"h":13.4,"v":22.2},{"s":3,"h":14.6,"v":20.2},{"s":3,"h":15.2,"v":20.5},{"s":3,"h":16.5,"v":19},{"s":3,"h":17.7,"v":16.3},{"s":3,"h":18.2,"v":25},{"s":3,"h":18.8,"v":23.3},{"s":3,"h":19.5,"v":25},{"s":3,"h":20,"v":23.3},{"s":3,"h":20.4,"v":24.6},{"s":3,"h":21.2,"v":21.8},{"s":3,"h":21.9,"v":23},{"s":3,"h":22.6,"v":21},{"s":3,"h":23.47,"v":18.7},
{"s":4,"h":0,"v":0},{"s":4,"h":1,"v":1},{"s":4,"h":2,"v":3},{"s":4,"h":3,"v":5},{"s":4,"h":3.4,"v":7.2},{"s":4,"h":4.3,"v":9},{"s":4,"h":4.7,"v":14.9},{"s":4,"h":5.2,"v":15},{"s":4,"h":5.6,"v":14.2},{"s":4,"h":5.85,"v":17.9},{"s":4,"h":6.65,"v":16.8},{"s":4,"h":7.1,"v":15.9},{"s":4,"h":7.6,"v":13},{"s":4,"h":8.5,"v":12},{"s":4,"h":9.5,"v":10},{"s":4,"h":10,"v":11},{"s":4,"h":11,"v":8},{"s":4,"h":12,"v":7},{"s":4,"h":13,"v":5},{"s":4,"h":14,"v":6},{"s":4,"h":15,"v":3},{"s":4,"h":16,"v":4},{"s":4,"h":17,"v":1},{"s":4,"h":18,"v":0},{"s":4,"h":19,"v":-1},{"s":4,"h":20,"v":-3},{"s":4,"h":21,"v":-4},{"s":4,"h":22,"v":-6},{"s":4,"h":23,"v":-6},{"s":4,"h":23.5,"v":-7},
{"s":5,"h":0,"v":0},{"s":5,"h":0.7,"v":4},{"s":5,"h":1.2,"v":10.9},{"s":5,"h":1.7,"v":10},{"s":5,"h":2.2,"v":11},{"s":5,"h":3,"v":10},{"s":5,"h":4,"v":8},{"s":5,"h":5,"v":7},{"s":5,"h":6,"v":9},{"s":5,"h":7,"v":7},{"s":5,"h":8,"v":6},{"s":5,"h":9,"v":8},{"s":5,"h":10,"v":5},{"s":5,"h":11,"v":6},{"s":5,"h":12,"v":3},{"s":5,"h":13,"v":5},{"s":5,"h":14,"v":2},{"s":5,"h":15,"v":4},{"s":5,"h":16,"v":1},{"s":5,"h":17,"v":2},{"s":5,"h":18,"v":-1},{"s":5,"h":19,"v":0},{"s":5,"h":20,"v":-2},{"s":5,"h":21,"v":-3},{"s":5,"h":22,"v":-2},{"s":5,"h":23,"v":-4},{"s":5,"h":23.5,"v":-4},
{"s":6,"h":0,"v":0},{"s":6,"h":1,"v":1},{"s":6,"h":2,"v":-1},{"s":6,"h":3,"v":2},{"s":6,"h":4,"v":0},{"s":6,"h":5,"v":3},{"s":6,"h":6,"v":2},{"s":6,"h":7,"v":5},{"s":6,"h":8,"v":4},{"s":6,"h":9,"v":7},{"s":6,"h":10,"v":6},{"s":6,"h":11,"v":9},{"s":6,"h":12,"v":8},{"s":6,"h":13,"v":10},{"s":6,"h":14,"v":11},{"s":6,"h":14.7,"v":18},{"s":6,"h":15,"v":17},{"s":6,"h":16,"v":16},{"s":6,"h":17.1,"v":16.3},{"s":6,"h":17.9,"v":21.1},{"s":6,"h":19,"v":19.5},{"s":6,"h":20,"v":20.5},{"s":6,"h":20.8,"v":18.5},{"s":6,"h":21.5,"v":21.1},{"s":6,"h":22,"v":19.5},{"s":6,"h":23,"v":17.5},{"s":6,"h":23.47,"v":16.8},
{"s":7,"h":0,"v":0},{"s":7,"h":1,"v":-2},{"s":7,"h":2,"v":-1},{"s":7,"h":3,"v":-3},{"s":7,"h":4,"v":-2},{"s":7,"h":5,"v":-4},{"s":7,"h":6,"v":-3},{"s":7,"h":7,"v":-5},{"s":7,"h":8,"v":-2},{"s":7,"h":9,"v":-4},{"s":7,"h":10,"v":-1},{"s":7,"h":11,"v":-3},{"s":7,"h":12,"v":0},{"s":7,"h":13,"v":-2},{"s":7,"h":14,"v":1},{"s":7,"h":15,"v":3},{"s":7,"h":16,"v":2},{"s":7,"h":17,"v":5},{"s":7,"h":18,"v":4},{"s":7,"h":19,"v":7},{"s":7,"h":20,"v":6},{"s":7,"h":21,"v":6.2},{"s":7,"h":22,"v":5},{"s":7,"h":22.3,"v":4.8},{"s":7,"h":22.6,"v":16},{"s":7,"h":23,"v":17.5},{"s":7,"h":23.47,"v":17},
{"s":8,"h":0,"v":0},{"s":8,"h":1,"v":1},{"s":8,"h":2,"v":3},{"s":8,"h":3,"v":2},{"s":8,"h":4,"v":4},{"s":8,"h":5,"v":3},{"s":8,"h":6,"v":5},{"s":8,"h":7,"v":4},{"s":8,"h":8,"v":6},{"s":8,"h":9,"v":8},{"s":8,"h":10,"v":9},{"s":8,"h":11,"v":10.5},{"s":8,"h":12,"v":13},{"s":8,"h":13,"v":13.7},{"s":8,"h":14,"v":13.7},{"s":8,"h":15,"v":12.5},{"s":8,"h":16,"v":14},{"s":8,"h":17,"v":12},{"s":8,"h":18,"v":11},{"s":8,"h":19,"v":12},{"s":8,"h":20,"v":10},{"s":8,"h":21,"v":11},{"s":8,"h":22,"v":9},{"s":8,"h":23,"v":8},{"s":8,"h":23.5,"v":8.5},
{"s":9,"h":0,"v":0},{"s":9,"h":1,"v":-1},{"s":9,"h":2,"v":1},{"s":9,"h":3,"v":-2},{"s":9,"h":4,"v":0},{"s":9,"h":5,"v":-3},{"s":9,"h":6,"v":-1},{"s":9,"h":7,"v":-4},{"s":9,"h":8,"v":-2},{"s":9,"h":9,"v":-3},{"s":9,"h":10,"v":0},{"s":9,"h":11,"v":-2},{"s":9,"h":12,"v":1},{"s":9,"h":13,"v":-1},{"s":9,"h":14,"v":2},{"s":9,"h":15,"v":0},{"s":9,"h":16,"v":0.2},{"s":9,"h":23.5,"v":0.2},
{"s":10,"h":0,"v":0},{"s":10,"h":1,"v":-2},{"s":10,"h":2,"v":-1},{"s":10,"h":3,"v":-3},{"s":10,"h":4,"v":-2},{"s":10,"h":5,"v":-4},{"s":10,"h":6,"v":-3},{"s":10,"h":7,"v":-5},{"s":10,"h":8,"v":-4},{"s":10,"h":9,"v":-6},{"s":10,"h":10,"v":-5},{"s":10,"h":11,"v":-7},{"s":10,"h":12,"v":-4},{"s":10,"h":13,"v":-6},{"s":10,"h":14,"v":-5},{"s":10,"h":15,"v":-7},{"s":10,"h":16,"v":-5},{"s":10,"h":16.5,"v":-6},{"s":10,"h":23.5,"v":-6},
{"s":11,"h":0,"v":0},{"s":11,"h":1,"v":-1},{"s":11,"h":2,"v":-2},{"s":11,"h":3,"v":-3},{"s":11,"h":4,"v":-3.5},{"s":11,"h":5,"v":-4},{"s":11,"h":6,"v":-4.5},{"s":11,"h":7,"v":-5},{"s":11,"h":8,"v":-4},{"s":11,"h":9,"v":-6},{"s":11,"h":10,"v":-5},{"s":11,"h":11,"v":-7},{"s":11,"h":12,"v":-6},{"s":11,"h":13,"v":-8},{"s":11,"h":14,"v":-9},{"s":11,"h":15.2,"v":-10.4},{"s":11,"h":16,"v":-12.3},{"s":11,"h":17.2,"v":-14.2},{"s":11,"h":17.9,"v":-12.3},{"s":11,"h":18.9,"v":-14.4},{"s":11,"h":19.9,"v":-16.2},{"s":11,"h":20.8,"v":-18.3},{"s":11,"h":21.4,"v":-17.7},{"s":11,"h":22.1,"v":-19},{"s":11,"h":23.47,"v":-20.9},
{"s":12,"h":0,"v":0},{"s":12,"h":1,"v":-2},{"s":12,"h":2,"v":-4},{"s":12,"h":3,"v":-6},{"s":12,"h":4,"v":-8},{"s":12,"h":5,"v":-10},{"s":12,"h":5.6,"v":-12.5},{"s":12,"h":6.4,"v":-13.3},{"s":12,"h":7,"v":-12},{"s":12,"h":8,"v":-11},{"s":12,"h":9,"v":-12},{"s":12,"h":10,"v":-13},{"s":12,"h":11,"v":-14},{"s":12,"h":11.5,"v":-14.7},{"s":12,"h":12.8,"v":-18.3},{"s":12,"h":13.7,"v":-17.2},{"s":12,"h":14.5,"v":-19},{"s":12,"h":15.2,"v":-20.5},{"s":12,"h":16,"v":-20},{"s":12,"h":17,"v":-21},{"s":12,"h":17.9,"v":-22.7},{"s":12,"h":18.8,"v":-25.5},{"s":12,"h":19,"v":-24.4},{"s":12,"h":19.9,"v":-26.3},{"s":12,"h":20.7,"v":-29.6},{"s":12,"h":22.1,"v":-31.8},{"s":12,"h":22.6,"v":-33.5},{"s":12,"h":23.1,"v":-32},{"s":12,"h":23.47,"v":-32.8},
{"s":13,"h":0,"v":0},{"s":13,"h":1,"v":-2},{"s":13,"h":2,"v":-4},{"s":13,"h":3,"v":-7},{"s":13,"h":3.65,"v":-9},{"s":13,"h":4.7,"v":-12.5},{"s":13,"h":5.2,"v":-11.2},{"s":13,"h":6.1,"v":-11.2},{"s":13,"h":6.7,"v":-13.3},{"s":13,"h":7.5,"v":-14},{"s":13,"h":8,"v":-15},{"s":13,"h":9,"v":-16},{"s":13,"h":10,"v":-17},{"s":13,"h":10.5,"v":-18.3},{"s":13,"h":11.9,"v":-19.8},{"s":13,"h":12.3,"v":-20},{"s":13,"h":12.8,"v":-17.7},{"s":13,"h":13.4,"v":-19.8},{"s":13,"h":13.7,"v":-22},{"s":13,"h":13.8,"v":-19.8},{"s":13,"h":14.5,"v":-20.5},{"s":13,"h":15.5,"v":-21},{"s":13,"h":16.5,"v":-22},{"s":13,"h":17.5,"v":-23},{"s":13,"h":18.5,"v":-24},{"s":13,"h":19.5,"v":-26},{"s":13,"h":20.3,"v":-27},{"s":13,"h":20.4,"v":-22.7},{"s":13,"h":21,"v":-23},{"s":13,"h":22,"v":-25},{"s":13,"h":23,"v":-27},{"s":13,"h":23.5,"v":-27.5}
]},
"layer":[
{"mark":{"type":"line","strokeWidth":1,"clip":true},
"encoding":{
"x":{"field":"h","type":"quantitative","scale":{"domain":[0,23.5],"nice":false,"zero":false},"axis":{"orient":"bottom","values":[0,1,2,3,4,5,6,7,8,9,10,11,12,13,14,15,16,17,18,19,20,21,22,23],"format":"d","labelPadding":11,"title":"Hour of Day","titlePadding":5,"labelFlush":false}},
"y":{"field":"v","type":"quantitative","scale":{"domain":[-50,40],"nice":false,"zero":false},"axis":{"orient":"left","values":[-50,-40,-30,-20,-10,0,10,20,30,40],"labelPadding":13,"title":"Cumulative (Z*Z)-1","titlePadding":7,"labelFlush":false}},
"color":{"field":"s","type":"nominal","legend":null,"scale":{"domain":[1,2,3,4,5,6,7,8,9,10,11,12,13,14,15,16,17,18,19,20,21,22,23,24,25,26,27,28,29,30,31,32,33,34,35,36,37,38,39,40,41,42,43,44,45,46,47,48,49,50,51,52,53,54],"range":["#0000a0","#0000a0","#00ffff","#ff0000","#6060ff","#0000ff","#00b000","#ff40ff","#00ffff","#00ffff","#000000","#00b000","#ff0000","#ff0000","#00b000","#0000ff","#ff40ff","#00ffff","#a00000","#ffff00","#6060ff","#ff0000","#00b000","#0000ff","#ff40ff","#00ffff","#a00000","#ffff00","#0000ff","#ff0000","#00b000","#0000ff","#ff40ff","#a00000","#ffff00","#ff0000","#00b000","#0000ff","#a00000","#ff40ff","#ff0000","#a00000","#00b000","#0000ff","#ff40ff","#ffff00","#00ffff","#6060ff","#ff0000","#a00000","#00b000","#0000ff","#ff0000","#a00000"]}}}},
{"mark":{"type":"line","opacity":0},
"encoding":{
"x":{"field":"h","type":"quantitative","scale":{"domain":[0,23.5],"nice":false,"zero":false},"axis":{"orient":"top","values":[0,1,2,3,4,5,6,7,8,9,10,11,12,13,14,15,16,17,18,19,20,21,22,23],"labels":false,"title":null}},
"y":{"field":"v","type":"quantitative","scale":{"domain":[-50,40],"nice":false,"zero":false},"axis":{"orient":"right","values":[-50,-40,-30,-20,-10,0,10,20,30,40],"labels":false,"title":null}}}}
],
"resolve":{"axis":{"x":"independent","y":"independent"}}
}
